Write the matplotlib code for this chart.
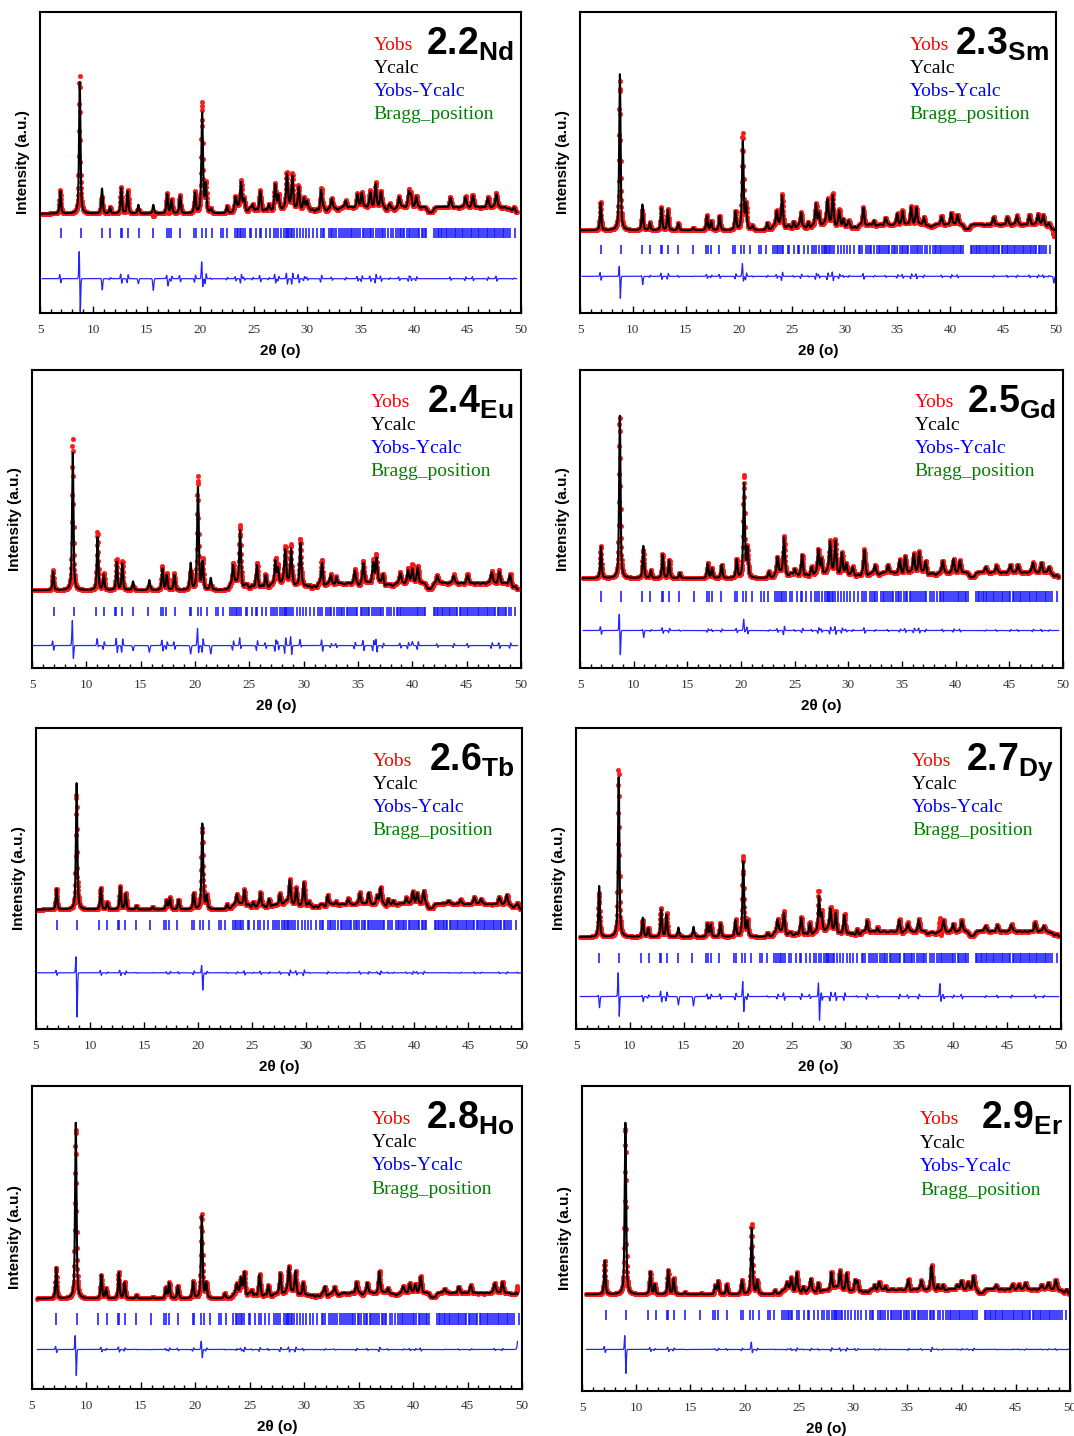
import numpy as np
import matplotlib.pyplot as plt
from matplotlib.ticker import MultipleLocator

plt.rcParams['mathtext.fontset'] = 'custom'
plt.rcParams['mathtext.bf'] = 'Liberation Sans:bold'
plt.rcParams['mathtext.rm'] = 'Liberation Sans'

# ---------------------------------------------------------------
# data (intensities in arbitrary units)
# ---------------------------------------------------------------
labels = ['2.2', '2.3', '2.4', '2.5', '2.6', '2.7', '2.8', '2.9']
elements = ['Nd', 'Sm', 'Eu', 'Gd', 'Tb', 'Dy', 'Ho', 'Er']

# common reflection list (2theta) for the isostructural series
bragg_low = [6.95, 8.8, 10.8, 11.55, 12.6, 12.7, 13.25, 14.25, 15.6, 16.85,
             17.05, 17.3, 18.1, 19.45, 19.6, 20.2, 20.5, 21.05, 21.9, 22.1, 22.5]
bragg_high = [23.2, 23.4, 23.55, 23.7, 23.85, 24.0, 24.15, 24.6, 24.75, 25.2,
              25.55, 25.7, 26.1, 26.5, 26.9, 27.1, 27.3, 27.5, 27.8, 28.0,
              28.1, 28.2, 28.3, 28.45, 28.6, 28.75, 29.0, 29.3, 29.6, 29.9,
              30.2, 30.5, 30.9, 31.3, 31.45, 31.6, 32.0, 32.2, 32.35, 32.5,
              32.7, 33.0, 33.2, 33.35, 33.5, 33.7, 33.9, 34.05, 34.2, 34.4,
              34.6, 34.75, 34.9, 35.2, 35.35, 35.5, 35.7, 35.85, 36.0, 36.2,
              36.4, 36.6, 36.8, 36.95, 37.1, 37.25, 37.6, 37.8, 38.0, 38.3,
              38.5, 38.65, 38.8, 38.95, 39.1, 39.3, 39.5, 39.65, 39.8, 40.0,
              40.2, 40.35, 40.5, 40.7, 40.85, 41.0, 41.15, 41.9, 42.05, 42.2,
              42.35, 42.5, 42.65, 42.8, 42.95, 43.1, 43.3, 43.45, 43.6, 43.8,
              43.95, 44.1, 44.3, 44.45, 44.6, 44.8, 44.95, 45.1, 45.3, 45.45,
              45.6, 45.8, 45.95, 46.1, 46.3, 46.45, 46.6, 46.8, 46.95, 47.1,
              47.3, 47.45, 47.6, 47.8, 47.95, 48.1, 48.3, 48.45, 48.6, 48.8,
              49.0, 49.4]
bragg_shift = [0.0, 0.05, 0.05, 0.0, 0.0, 0.2, 0.3, 0.25]

# (2theta, calculated peak height)
peaks_nd = [(6.9, 68), (8.72, 395), (10.8, 75), (11.55, 18), (12.6, 76), (13.2, 66),
            (14.2, 26), (15.6, 26), (16.9, 58), (17.3, 40), (18.1, 52), (19.5, 60),
            (20.17, 300), (20.5, 82), (21.0, 12), (22.5, 20), (23.3, 35), (23.8, 74),
            (24.1, 25), (24.9, 20), (25.6, 52), (26.4, 18), (27.0, 72), (27.3, 38),
            (28.1, 92), (28.6, 92), (29.2, 68), (29.7, 35), (30.0, 26), (31.3, 56),
            (32.3, 26), (33.6, 22), (34.7, 38), (35.1, 48), (35.9, 45), (36.4, 72),
            (36.9, 45), (37.7, 14), (38.6, 30), (39.5, 44), (39.7, 34), (40.2, 32),
            (43.4, 28), (44.8, 30), (45.5, 34), (46.9, 28), (47.7, 42), (49.3, 10)]
peaks_sm = [(6.95, 82), (8.77, 468), (10.9, 77), (11.6, 22), (12.7, 66), (13.3, 61),
            (14.3, 20), (15.7, 7), (17.0, 42), (17.4, 26), (18.2, 42), (19.7, 54),
            (20.39, 265), (20.7, 72), (21.3, 12), (22.7, 20), (23.6, 40), (24.1, 88),
            (25.2, 16), (25.9, 46), (26.6, 14), (27.3, 64), (27.6, 38), (28.4, 72),
            (28.9, 92), (29.5, 50), (29.9, 22), (30.4, 20), (31.8, 60), (32.8, 17),
            (33.9, 22), (35.0, 36), (35.5, 40), (36.3, 54), (36.8, 52), (37.5, 30),
            (39.2, 26), (40.1, 36), (40.7, 30), (44.1, 22), (45.4, 22), (46.3, 27),
            (47.5, 27), (48.3, 32), (48.8, 30), (49.3, 15)]
peaks_eu = [(6.95, 55), (8.75, 410), (11.03, 158), (11.6, 45), (12.8, 84), (13.3, 79),
            (14.3, 26), (15.8, 30), (17.0, 64), (17.4, 44), (18.1, 45), (19.6, 79),
            (20.27, 305), (20.7, 80), (21.45, 35), (23.5, 55), (24.15, 160), (25.7, 58),
            (26.5, 33), (27.4, 68), (27.65, 50), (28.3, 92), (28.85, 106), (29.7, 128),
            (31.7, 68), (32.5, 24), (33.0, 24), (34.7, 38), (35.5, 60), (36.4, 62),
            (36.7, 76), (37.3, 28), (38.9, 29), (39.6, 38), (40.0, 45), (40.5, 46),
            (42.3, 21), (43.8, 24), (45.1, 24), (47.3, 34), (48.0, 34), (49.0, 31)]
peaks_gd = [(6.95, 94), (8.71, 485), (10.9, 96), (11.6, 22), (12.7, 70), (13.3, 53),
            (14.3, 15), (16.9, 43), (17.3, 28), (18.2, 39), (19.6, 53), (20.28, 280),
            (20.6, 84), (22.6, 18), (23.4, 47), (24.0, 105), (25.0, 22), (25.7, 56),
            (26.6, 25), (27.2, 70), (27.5, 43), (28.3, 87), (28.8, 97), (29.4, 65),
            (29.8, 33), (30.4, 24), (31.5, 68), (32.5, 22), (33.7, 24), (34.8, 37),
            (35.3, 47), (36.1, 57), (36.6, 62), (37.2, 34), (38.8, 33), (39.8, 40),
            (40.4, 35), (42.8, 15), (43.8, 21), (45.1, 23), (45.8, 23), (47.2, 31),
            (48.0, 28), (48.7, 19)]
peaks_tb = [(6.9, 61), (8.76, 378), (11.0, 63), (11.6, 21), (12.8, 67), (13.3, 46),
            (14.3, 11), (15.8, 7), (17.1, 27), (17.4, 34), (18.2, 28), (19.6, 47),
            (20.4, 256), (20.8, 38), (22.7, 14), (23.6, 28), (24.3, 52), (25.1, 14),
            (25.8, 41), (26.6, 23), (27.6, 37), (28.5, 70), (29.1, 53), (29.8, 71),
            (30.3, 13), (32.0, 30), (32.8, 13), (33.9, 16), (35.0, 38), (35.8, 32),
            (36.6, 25), (36.9, 47), (37.6, 18), (38.1, 16), (39.3, 20), (39.9, 38),
            (40.3, 30), (40.9, 38), (43.2, 11), (44.3, 13), (45.6, 20), (46.2, 16),
            (47.9, 20), (48.6, 28), (49.6, 16)]
peaks_dy = [(7.15, 152), (8.96, 478), (11.2, 57), (11.7, 25), (12.9, 81), (13.4, 66),
            (14.5, 28), (15.9, 30), (17.2, 38), (17.5, 36), (18.4, 39), (19.8, 48),
            (20.52, 224), (20.9, 44), (22.8, 11), (23.7, 35), (24.3, 56), (25.9, 44),
            (26.7, 30), (27.55, 104), (27.8, 55), (28.6, 65), (29.1, 60), (29.9, 56),
            (31.1, 12), (32.0, 42), (33.0, 17), (35.0, 34), (35.8, 26), (36.8, 36),
            (39.1, 32), (40.0, 22), (40.8, 34), (43.0, 15), (44.1, 18), (45.4, 21),
            (47.6, 25), (48.4, 18)]
peaks_ho = [(7.22, 92), (9.02, 525), (11.37, 69), (11.8, 29), (12.98, 77), (13.5, 47),
            (14.6, 9), (16.1, 4), (17.3, 31), (17.6, 46), (18.4, 37), (19.8, 49),
            (20.59, 246), (21.0, 44), (22.7, 14), (23.8, 27), (24.2, 43), (24.5, 66),
            (25.2, 18), (25.9, 57), (26.7, 31), (27.8, 62), (28.6, 73), (29.2, 69),
            (29.9, 36), (31.9, 22), (32.8, 18), (34.8, 34), (35.8, 30), (36.9, 66),
            (37.7, 22), (39.1, 18), (39.7, 30), (40.2, 27), (40.7, 47), (42.9, 11),
            (44.2, 18), (45.3, 22), (47.5, 30), (48.2, 32), (49.5, 13)]
peaks_er = [(7.1, 99), (9.0, 508), (11.3, 66), (11.7, 29), (12.95, 71), (13.45, 46),
            (14.5, 6), (16.0, 3), (17.3, 24), (17.55, 38), (18.35, 29), (19.75, 41),
            (20.65, 196), (21.15, 39), (22.8, 11), (23.9, 20), (24.3, 34), (24.8, 54),
            (25.4, 14), (26.1, 40), (26.8, 25), (28.0, 54), (28.8, 54), (29.4, 54),
            (30.2, 31), (30.4, 27), (32.0, 21), (32.4, 23), (33.0, 14), (35.1, 30),
            (36.3, 27), (37.24, 69), (37.8, 17), (38.3, 17), (39.6, 15), (40.0, 25),
            (40.6, 20), (41.1, 39), (43.2, 11), (44.7, 14), (45.3, 14), (45.9, 20),
            (47.4, 14), (48.0, 20), (48.7, 27), (49.7, 7)]

# misfit features of Yobs-Ycalc: (2theta, symmetric part, antisymmetric part)
resid_nd = [(8.72, -15, 90), (20.17, 22, 36), (10.8, -30, 10), (15.6, -35, 0),
            (17.0, -15, 0), (14.2, -15, 0)]
resid_sm = [(8.77, -30, 46), (20.39, 20, 25), (10.9, -20, 10), (49.8, -20, 0)]
resid_eu = [(8.75, 30, 55), (11.03, 15, 10), (20.27, 25, 35), (24.15, 12, 15),
            (19.6, -25, 0), (21.45, -25, 0), (15.8, -20, 0), (14.3, -15, 0),
            (29.7, 12, 10), (40.0, 12, 0)]
resid_gd = [(8.71, -20, 60), (20.28, 25, 15), (10.9, -15, 10)]
resid_tb = [(8.76, -70, 85), (20.4, -25, 35)]
resid_dy = [(8.96, 10, 65), (7.15, -25, 15), (27.55, -25, 55), (38.8, 20, 25),
            (14.5, -25, 0), (15.9, -28, 0), (11.2, -10, 8)]
resid_ho = [(9.02, -30, 58), (49.6, 25, 0)]
resid_er = [(9.0, -25, 55), (20.65, 10, 15)]
# size of the small misfit left at every other reflection (fraction of height)
misfit_frac = [0.18, 0.14, 0.25, 0.12, 0.12, 0.2, 0.1, 0.09]

peaks = [peaks_nd, peaks_sm, peaks_eu, peaks_gd, peaks_tb, peaks_dy, peaks_ho, peaks_er]
resids = [resid_nd, resid_sm, resid_eu, resid_gd, resid_tb, resid_dy, resid_ho, resid_er]

# vertical layout of each panel, same a.u. scale
y_top = [903, 903, 890, 890, 900, 900, 905, 903]
y_base = [298, 248, 232, 268, 357, 275, 270, 286]
bragg_lo = [226, 178, 155, 198, 297, 197, 190, 210]
bragg_hi = [255, 205, 183, 230, 325, 227, 228, 240]
diff_base = [103, 110, 67, 112, 168, 97, 118, 123]
scan_start = [5.2, 5.2, 5.0, 5.3, 5.1, 5.4, 5.5, 5.4]
scan_end = [49.6, 50.0, 49.7, 49.6, 50.0, 49.8, 49.6, 50.0]
weak = [9, 8, 10, 8, 8, 8, 8, 7]

# panel boxes in pixels: left, top, right, bottom
boxes = [(40, 12, 521, 313), (580, 12, 1056, 313),
         (32, 370, 521, 668), (580, 370, 1063, 668),
         (36, 728, 522, 1029), (576, 728, 1061, 1029),
         (32, 1086, 522, 1389), (582, 1086, 1070, 1391)]

W, H = 1074, 1436


def pseudo_voigt(x, x0, h, fwhm, eta=0.6):
    g = np.exp(-4 * np.log(2) * (x - x0) ** 2 / fwhm ** 2)
    l = 1 / (1 + 4 * (x - x0) ** 2 / fwhm ** 2)
    return h * (eta * l + (1 - eta) * g)


def misfit(x, x0, a_sym, a_anti, s=0.05):
    u = (x - x0) / s
    e = np.exp(-u ** 2 / 2)
    return a_sym * e - a_anti * u * np.exp(0.5) * e


fig = plt.figure(figsize=(W / 100, H / 100), dpi=100)

for i in range(8):
    l, t, r, b = boxes[i]
    ax = fig.add_axes([l / W, 1 - b / H, (r - l) / W, (b - t) / H])

    x = np.arange(scan_start[i], scan_end[i], 0.01)
    calc = np.zeros_like(x)
    diff = np.zeros_like(x)
    big = [p[0] for p in resids[i]]
    for k, (x0, h) in enumerate(peaks[i]):
        calc += pseudo_voigt(x, x0, h, 0.14 + 0.0015 * x0)
        if min(abs(x0 - p) for p in big) > 0.1:
            sgn = 1 if k % 2 == 0 else -1
            diff += misfit(x, x0, 0, sgn * misfit_frac[i] * h)
    for x0 in bragg_high:
        calc += pseudo_voigt(x, x0 + bragg_shift[i], weak[i], 0.25)
    for x0, a, d in resids[i]:
        diff += misfit(x, x0, a, d)
    obs = calc + diff

    ax.plot(x[::2], y_base[i] + obs[::2], 'o', color='#ff1a1a', ms=3.2,
            mew=0.4, zorder=2)
    ax.plot(x, y_base[i] + calc, color='black', lw=1.5, zorder=3)

    bragg = np.array(bragg_low + bragg_high) + bragg_shift[i]
    ax.vlines(bragg, bragg_lo[i], bragg_hi[i], color='#1010ff', lw=1.1)
    ax.plot(x, diff_base[i] + diff, color='#2424ff', lw=0.9)

    ax.set_xlim(5, 50)
    ax.set_ylim(0, y_top[i])
    ax.set_yticks([])
    ax.xaxis.set_major_locator(MultipleLocator(5))
    ax.xaxis.set_minor_locator(MultipleLocator(1))
    ax.tick_params(axis='x', which='both', direction='in', top=False,
                   labelsize=9.5, pad=8, labelcolor='#333333',
                   labelfontfamily='Liberation Serif')
    ax.tick_params(axis='x', which='major', length=5, width=1)
    ax.tick_params(axis='x', which='minor', length=3, width=1)
    for sp in ax.spines.values():
        sp.set_linewidth(1.5)

    ax.set_xlabel('2θ (o)', fontsize=11, fontweight='bold',
                  family='Liberation Sans', labelpad=6)
    ax.set_ylabel('Intensity (a.u.)', fontsize=11, fontweight='bold',
                  family='Liberation Sans', labelpad=7)

    legend = [('Yobs', '#ff0000'), ('Ycalc', 'black'),
              ('Yobs-Ycalc', '#0000ff'), ('Bragg_position', '#008000')]
    for k, (txt, col) in enumerate(legend):
        ax.text(0.693, 0.89 - 0.077 * k, txt, color=col, fontsize=14,
                family='Liberation Serif', ha='left', va='center',
                transform=ax.transAxes)

    ax.text(0.985, 0.955, r'$\mathbf{%s_{%s}}$' % (labels[i], elements[i]),
            fontsize=27, ha='right', va='top', transform=ax.transAxes)

fig.savefig('out.png', dpi=100)
